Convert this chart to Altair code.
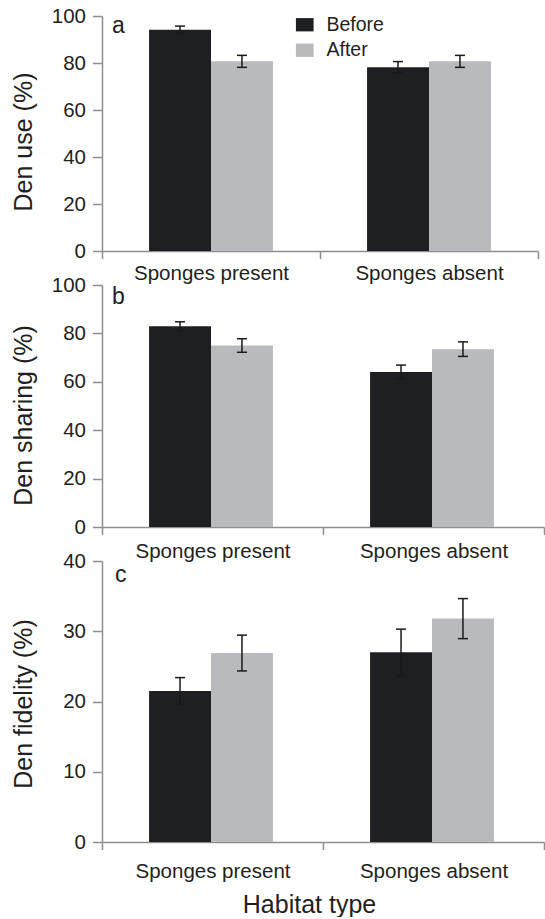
import altair as alt
import pandas as pd

# ---------------- data ----------------
habitats = ["Sponges present", "Sponges absent"]
periods = ["Before", "After"]

use_before = [94.2, 78.2]
use_after = [80.7, 80.7]
use_se_before = [1.5, 2.4]
use_se_after = [2.55, 2.55]

share_before = [83.0, 64.1]
share_after = [75.0, 73.5]
share_se_before = [1.8, 2.8]
share_se_after = [2.8, 3.0]

fid_before = [21.5, 27.0]
fid_after = [26.9, 31.8]
fid_se_before = [1.9, 3.3]
fid_se_after = [2.55, 2.85]

panel_letters = ["a", "b", "c"]
y_titles = ["Den use (%)", "Den sharing (%)", "Den fidelity (%)"]
x_title = "Habitat type"
y_ticks_100 = [0, 20, 40, 60, 80, 100]
y_ticks_40 = [0, 10, 20, 30, 40]

# ---------------- style ----------------
FONT = "Liberation Sans"
TXT = "#231f20"
AXC = "#8e8e8e"
DARK = "#1e1f22"
LIGHT = "#b9babd"


def panel_df(before, after, se_b, se_a):
    rows = []
    for i, h in enumerate(habitats):
        for p, v, s in ((periods[0], before[i], se_b[i]), (periods[1], after[i], se_a[i])):
            rows.append({"habitat": h, "period": p, "value": v, "lo": v - s, "hi": v + s})
    return pd.DataFrame(rows)


def make_panel(df, letter, ytitle, yticks, width, height, lab_pad, show_xtitle,
               show_legend, letter_xy, title_dy):
    xaxis_kw = dict(
        tickBand="extent", labelAngle=0, labelFontSize=20.5,
        labelFont=FONT, labelColor=TXT, labelPadding=lab_pad, tickSize=7.5,
        tickColor=AXC, tickWidth=1.5, domainColor=AXC, domainWidth=1.5,
        labelBaseline="top",
    )
    if show_xtitle:
        xaxis_kw.update(title=x_title, titleFontSize=25, titleFont=FONT,
                        titleColor=TXT, titleFontWeight="normal", titleX=207,
                        titleY=50, titleBaseline="top", titleAlign="center")
    else:
        xaxis_kw.update(title=None)
    x = alt.X("habitat:N", sort=habitats,
              scale=alt.Scale(paddingInner=0, paddingOuter=0),
              axis=alt.Axis(**xaxis_kw))
    xo = alt.XOffset("period:N", sort=periods,
                     scale=alt.Scale(paddingInner=0, paddingOuter=0.76))
    y = alt.Y("value:Q", scale=alt.Scale(domain=[yticks[0], yticks[-1]], nice=False),
              axis=alt.Axis(values=yticks, title=ytitle, grid=False,
                            labelFontSize=20.5, labelFont=FONT, labelColor=TXT,
                            labelPadding=7, tickSize=9.5, tickColor=AXC, tickWidth=1.5,
                            domainColor=AXC, domainWidth=1.5,
                            titleFontSize=25, titleFont=FONT, titleColor=TXT,
                            titleFontWeight="normal", titleAngle=270,
                            titleX=-91, titleY=height / 2 + title_dy,
                            titleBaseline="top", titleAlign="center"))
    if show_legend:
        leg = alt.Legend(orient="none", legendX=193, legendY=-1, title=None,
                         symbolType="M-1,-0.75H1V0.75H-1Z", symbolSize=313,
                         symbolStrokeWidth=0, symbolOpacity=1,
                         labelFontSize=19.5, labelFont=FONT, labelColor=TXT,
                         labelOffset=12, rowPadding=4.5)
    else:
        leg = None
    color = alt.Color("period:N", sort=periods,
                      scale=alt.Scale(domain=periods, range=[DARK, LIGHT]),
                      legend=leg)
    base = alt.Chart(df)
    bars = base.mark_bar(opacity=1).encode(x=x, xOffset=xo, y=y, color=color)
    rule = base.mark_rule(color="#1a1a1a", strokeWidth=1.5).encode(
        x=x, xOffset=xo, y="lo:Q", y2="hi:Q")
    cap_hi = base.mark_tick(color="#1a1a1a", size=10, thickness=1.5, opacity=1).encode(
        x=x, xOffset=xo, y="hi:Q")
    cap_lo = base.mark_tick(color="#1a1a1a", size=10, thickness=1.5, opacity=1).encode(
        x=x, xOffset=xo, y="lo:Q")
    lab = alt.Chart(pd.DataFrame({"t": [letter]})).mark_text(
        font=FONT, fontSize=23, color=TXT, align="left", baseline="alphabetic"
    ).encode(x=alt.value(letter_xy[0]), y=alt.value(letter_xy[1]), text="t:N")
    return alt.layer(bars, rule, cap_hi, cap_lo, lab).properties(width=width, height=height)


pa = make_panel(panel_df(use_before, use_after, use_se_before, use_se_after),
                panel_letters[0], y_titles[0], y_ticks_100, 436, 235, 4.5,
                False, True, (10, 16.5), 8)
pb = make_panel(panel_df(share_before, share_after, share_se_before, share_se_after),
                panel_letters[1], y_titles[1], y_ticks_100, 442, 242, 6.5,
                False, False, (10, 19), 9)
pc = make_panel(panel_df(fid_before, fid_after, fid_se_before, fid_se_after),
                panel_letters[2], y_titles[2], y_ticks_40, 442, 281, 11.5,
                True, False, (13, 21), 2)

chart = alt.vconcat(pa, pb, pc, spacing=34, bounds="flush").resolve_scale(
    color="independent", x="independent", y="independent"
).properties(
    padding={"left": 11, "top": 6, "right": 0, "bottom": 0},
    background="white",
).configure_view(stroke=None)

chart.save("out.html", embed_options={"renderer": "svg", "actions": False})
